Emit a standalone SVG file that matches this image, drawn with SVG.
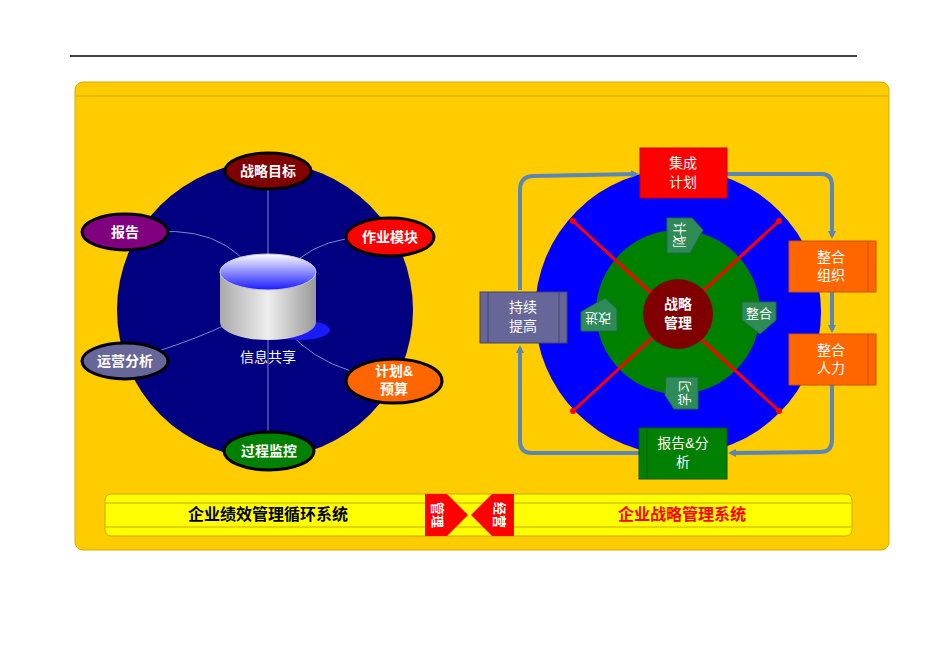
<svg xmlns="http://www.w3.org/2000/svg" width="950" height="656" viewBox="0 0 950 656">
<defs>
<style>
.t{font-family:"Liberation Sans","Noto Sans CJK SC",sans-serif}
.e{stroke:#000;stroke-width:3}
.w{fill:#fff;font-size:14px;font-weight:bold;text-anchor:middle}
.box{fill:#fff;font-size:14px;text-anchor:middle}
.c{fill:none;stroke:#5b87b8;stroke-width:4}
.sm{fill:#2e8b57;stroke:#1c6d44}
</style>
<marker id="a" markerWidth="8" markerHeight="8" refX="5" refY="4" orient="auto" markerUnits="userSpaceOnUse" viewBox="0 0 8 8"><path d="M0,0L8,4L0,8z" fill="#5b87b8"/></marker>
<linearGradient id="cy" x1="0" x2="1"><stop offset="0" stop-color="#aaa"/><stop offset=".5" stop-color="#eee"/><stop offset="1" stop-color="#999"/></linearGradient>
<linearGradient id="ct" x1="0" y1="0" x2="0" y2="1"><stop offset="0" stop-color="#fff"/><stop offset="1" stop-color="#1a1aff"/></linearGradient>
</defs>
<line x1="70" y1="56" x2="857" y2="56" stroke="#000" stroke-width="1.5"/>
<rect x="75" y="82" width="814" height="468" rx="8" fill="#ffcc00" stroke="#d9a800"/>
<line x1="76" y1="96" x2="888" y2="96" stroke="#d9a800"/>
<g id="left">
<circle cx="265" cy="310" r="148" fill="#000080"/>
<g fill="none" stroke="#7a8ac8" stroke-width="1">
<path d="M268,190 L268,460"/><path d="M155,232 Q240,225 268,300"/><path d="M385,238 Q300,230 268,300"/><path d="M130,360 Q230,330 268,300"/><path d="M395,380 Q300,370 268,300"/>
</g>
<ellipse cx="300" cy="330" rx="30" ry="10" fill="#1a1aff"/>
<path d="M220,272 L220,322 A48,18 0 0 0 316,322 L316,272z" fill="url(#cy)"/>
<ellipse cx="268" cy="272" rx="48" ry="18" fill="url(#ct)" stroke="#ccc"/>
<text class="t" x="268" y="362" fill="#fff" font-size="14" text-anchor="middle">信息共享</text>
</g>
<g id="n1"><ellipse class="e" cx="268" cy="171" rx="43" ry="18" fill="#800000"/><text class="t w" x="268" y="176">战略目标</text></g>
<g id="n2"><ellipse class="e" cx="125" cy="232" rx="43" ry="18" fill="#800080"/><text class="t w" x="125" y="237">报告</text></g>
<g id="n3"><ellipse class="e" cx="390" cy="237" rx="44" ry="19" fill="#ff0000"/><text class="t w" x="390" y="242">作业模块</text></g>
<g id="n4"><ellipse class="e" cx="125" cy="361" rx="43" ry="18" fill="#666699"/><text class="t w" x="125" y="366">运营分析</text></g>
<g id="n5"><ellipse class="e" cx="394" cy="381" rx="48" ry="22" fill="#ff6600"/><text class="t w" x="394" y="376">计划&amp;</text><text class="t w" x="394" y="394">预算</text></g>
<g id="n6"><ellipse class="e" cx="269" cy="451" rx="45" ry="19" fill="#008000"/><text class="t w" x="269" y="456">过程监控</text></g>
<g id="right">
<circle cx="678" cy="312" r="143" fill="#0000ff"/>
<circle cx="678" cy="312" r="82" fill="#008000"/>
<g stroke="#ff0000" stroke-width="3"><line x1="573" y1="221" x2="779" y2="411"/><line x1="779" y1="221" x2="573" y2="411"/></g>
<g fill="#ff0000"><circle cx="573" cy="221" r="3"/><circle cx="779" cy="221" r="3"/><circle cx="573" cy="411" r="3"/><circle cx="779" cy="411" r="3"/></g>
<circle cx="678" cy="314" r="35" fill="#800000"/>
<text class="t w" x="678" y="309" font-size="15">战略</text><text class="t w" x="678" y="328" font-size="15">管理</text>
<path class="sm" d="M667,218 L692,218 L703,230 L690,253 L667,253z"/>
<text class="t" transform="translate(680,235) rotate(90)" fill="#fff" font-size="13" text-anchor="middle" dy="5">计划</text>
<path class="sm" d="M581,331 L617,331 L617,309 L605,298 L581,312z"/>
<text class="t" transform="translate(598,319) rotate(180)" fill="#fff" font-size="13" text-anchor="middle" dy="5">改进</text>
<path class="sm" d="M742,302 L776,302 L776,320 L760,334 L742,320z"/>
<text class="t" x="759" y="318" fill="#fff" font-size="13" text-anchor="middle">整合</text>
<path class="sm" d="M666,377 L698,377 L698,409 L674,409 L665,395z"/>
<text class="t" transform="translate(684,393) rotate(-90)" fill="#fff" font-size="13" text-anchor="middle" dy="5">学习</text>
</g>
<g id="connectors">
<path class="c" d="M640,172 L530,175 Q520,176 520,186 L520,288" marker-end="url(#a)" transform="rotate(180 580 230)" style="display:none"/>
<path class="c" d="M520,290 L520,190 Q520,176 534,176 L636,174" marker-end="url(#a)"/>
<path class="c" d="M727,174 L822,174 Q832,174 832,186 L832,236" marker-end="url(#a)"/>
<path class="c" d="M832,292 L832,330" marker-end="url(#a)"/>
<path class="c" d="M832,385 L832,440 Q832,452 820,452 L731,453" marker-end="url(#a)"/>
<path class="c" d="M639,453 L532,453 Q520,453 520,441 L520,348" marker-end="url(#a)"/>
</g>
<g id="b1"><rect x="640" y="148" width="87" height="50" fill="#ff0000" stroke="#c00"/><text class="t box" x="683" y="168">集成</text><text class="t box" x="683" y="187">计划</text></g>
<g id="b2"><rect x="789" y="241" width="87" height="51" fill="#ff6600" stroke="#cc5200"/><line x1="868" y1="241" x2="868" y2="292" stroke="#cc5200"/><text class="t box" x="831" y="262">整合</text><text class="t box" x="831" y="280">组织</text></g>
<g id="b3"><rect x="789" y="334" width="87" height="51" fill="#ff6600" stroke="#cc5200"/><line x1="868" y1="334" x2="868" y2="385" stroke="#cc5200"/><text class="t box" x="831" y="355">整合</text><text class="t box" x="831" y="373">人力</text></g>
<g id="b4"><rect x="639" y="428" width="88" height="51" fill="#008000" stroke="#005a00"/><line x1="647" y1="428" x2="647" y2="479" stroke="#005a00"/><text class="t box" x="683" y="448">报告&amp;分</text><text class="t box" x="683" y="467">析</text></g>
<g id="b5"><rect x="480" y="292" width="87" height="51" fill="#666699" stroke="#44446e"/><line x1="488" y1="292" x2="488" y2="343" stroke="#44446e"/><line x1="559" y1="292" x2="559" y2="343" stroke="#44446e"/><text class="t box" x="523" y="312">持续</text><text class="t box" x="523" y="331">提高</text></g>
<g id="bottom">
<rect x="105" y="494" width="747" height="42" rx="6" fill="#ffff00" stroke="#c9a800"/>
<line x1="106" y1="503" x2="851" y2="503" stroke="#c9a800"/><line x1="106" y1="527" x2="851" y2="527" stroke="#c9a800"/>
<text class="t" x="268" y="520" font-size="16" font-weight="bold" fill="#000" text-anchor="middle">企业绩效管理循环系统</text>
<text class="t" x="682" y="520" font-size="16" font-weight="bold" fill="#ff0000" text-anchor="middle">企业战略管理系统</text>
<path d="M425,494 L447,494 L468,515 L447,536 L425,536z" fill="#ff0000"/>
<path d="M514,494 L492,494 L471,515 L492,536 L514,536z" fill="#ff0000"/>
<text class="t" transform="translate(438,515) rotate(90)" fill="#fff" font-size="13" font-weight="bold" text-anchor="middle" dy="5">管理</text>
<text class="t" transform="translate(500,515) rotate(90)" fill="#fff" font-size="13" font-weight="bold" text-anchor="middle" dy="5">经营</text>
</g>
</svg>
